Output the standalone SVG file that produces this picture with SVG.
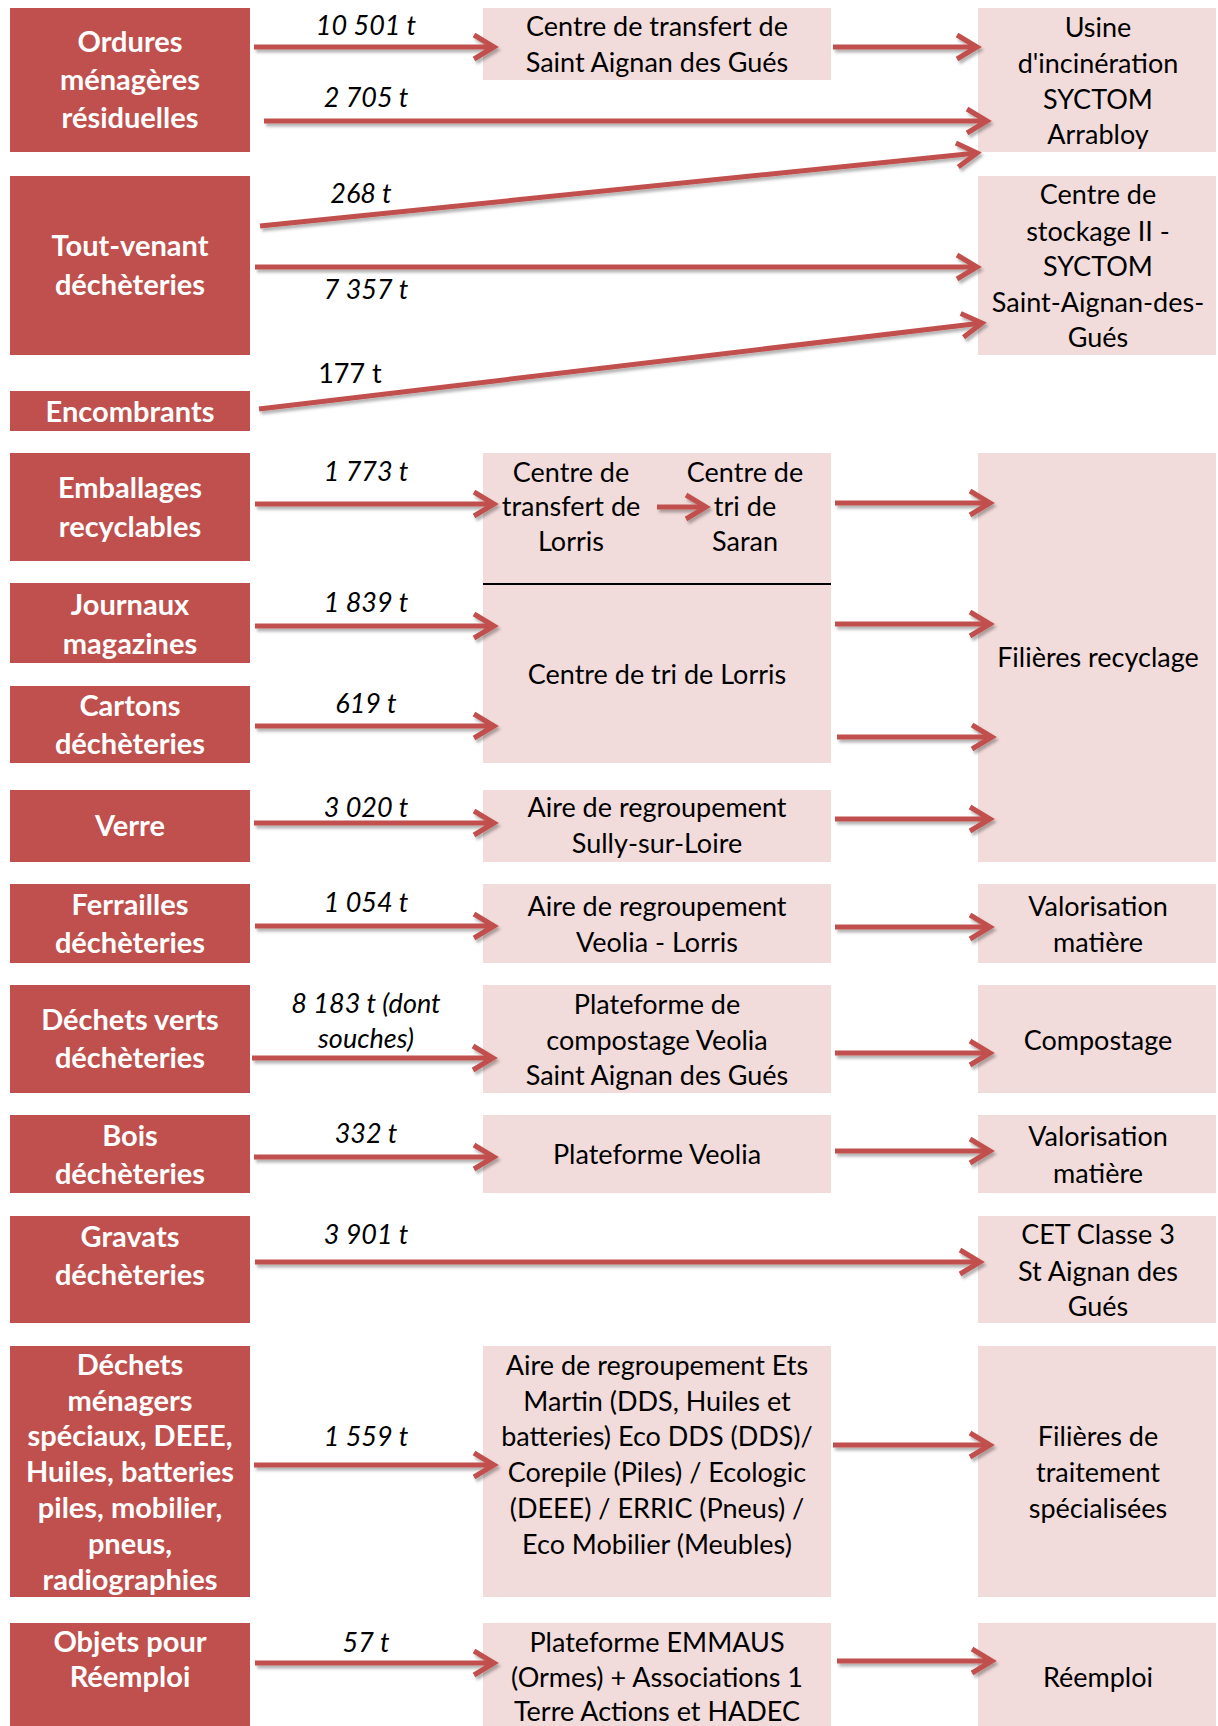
<svg xmlns="http://www.w3.org/2000/svg" width="1218" height="1726" viewBox="0 0 1218 1726">
<style>
.src{fill:#C0504D}
.box{fill:#F2DCDB}
.tb{font-family:Lato,"Open Sans",sans-serif;font-weight:bold;font-size:29px;fill:#ffffff;text-anchor:middle}
.t{font-family:Lato,"Open Sans",sans-serif;font-size:27px;fill:#000000;text-anchor:middle}
.l{font-family:Lato,"Open Sans",sans-serif;font-style:italic;font-size:27px;fill:#000000;text-anchor:middle}
.lu{font-family:Lato,"Open Sans",sans-serif;font-size:27px;fill:#000000;text-anchor:middle}
.a{stroke:#C0504D;stroke-width:5;fill:none;marker-end:url(#ah)}
</style>
<defs>
<marker id="ah" markerUnits="userSpaceOnUse" orient="auto" refX="0" refY="0" markerWidth="40" markerHeight="40" overflow="visible">
<path d="M-20,-12 L0,0 L-20,12" fill="none" stroke="#C0504D" stroke-width="5"/>
</marker>
<filter id="sh" x="-5%" y="-50%" width="110%" height="200%">
<feDropShadow dx="2" dy="3" stdDeviation="1.5" flood-color="#000000" flood-opacity="0.3"/>
</filter>
</defs>
<rect width="1218" height="1726" fill="#ffffff"/>

<g id="n-ordures"><rect class="src" x="10" y="8" width="240" height="144"/>
<text class="tb" x="130" y="52">Ordures</text><text class="tb" x="130" y="90">ménagères</text><text class="tb" x="130" y="128">résiduelles</text></g>
<g id="n-toutvenant"><rect class="src" x="10" y="176" width="240" height="179"/>
<text class="tb" x="130" y="256">Tout-venant</text><text class="tb" x="130" y="295">déchèteries</text></g>
<g id="n-encombrants"><rect class="src" x="10" y="391" width="240" height="40"/>
<text class="tb" x="130" y="422">Encombrants</text></g>
<g id="n-emballages"><rect class="src" x="10" y="453" width="240" height="108"/>
<text class="tb" x="130" y="498">Emballages</text><text class="tb" x="130" y="537">recyclables</text></g>
<g id="n-journaux"><rect class="src" x="10" y="583" width="240" height="80"/>
<text class="tb" x="130" y="615">Journaux</text><text class="tb" x="130" y="654">magazines</text></g>
<g id="n-cartons"><rect class="src" x="10" y="686" width="240" height="77"/>
<text class="tb" x="130" y="716">Cartons</text><text class="tb" x="130" y="754">déchèteries</text></g>
<g id="n-verre"><rect class="src" x="10" y="790" width="240" height="72"/>
<text class="tb" x="130" y="836">Verre</text></g>
<g id="n-ferrailles"><rect class="src" x="10" y="884" width="240" height="79"/>
<text class="tb" x="130" y="915">Ferrailles</text><text class="tb" x="130" y="953">déchèteries</text></g>
<g id="n-dechetsverts"><rect class="src" x="10" y="985" width="240" height="108"/>
<text class="tb" x="130" y="1030">Déchets verts</text><text class="tb" x="130" y="1068">déchèteries</text></g>
<g id="n-bois"><rect class="src" x="10" y="1115" width="240" height="78"/>
<text class="tb" x="130" y="1146">Bois</text><text class="tb" x="130" y="1184">déchèteries</text></g>
<g id="n-gravats"><rect class="src" x="10" y="1216" width="240" height="107"/>
<text class="tb" x="130" y="1247">Gravats</text><text class="tb" x="130" y="1285">déchèteries</text></g>
<g id="n-dms"><rect class="src" x="10" y="1346" width="240" height="251"/>
<text class="tb" x="130" y="1375">Déchets</text><text class="tb" x="130" y="1411">ménagers</text><text class="tb" x="130" y="1446">spéciaux, DEEE,</text><text class="tb" x="130" y="1482">Huiles, batteries</text><text class="tb" x="130" y="1518">piles, mobilier,</text><text class="tb" x="130" y="1554">pneus,</text><text class="tb" x="130" y="1590">radiographies</text></g>
<g id="n-objets"><rect class="src" x="10" y="1623" width="240" height="103"/>
<text class="tb" x="130" y="1652">Objets pour</text><text class="tb" x="130" y="1687">Réemploi</text></g>

<g id="m-transfert-sag"><rect class="box" x="483" y="8" width="348" height="72"/>
<text class="t" x="657" y="36">Centre de transfert de</text><text class="t" x="657" y="72">Saint Aignan des Gués</text></g>
<g id="m-lorris"><rect class="box" x="483" y="453" width="348" height="310"/>
<line x1="483" y1="584" x2="831" y2="584" stroke="#000000" stroke-width="1.8"/>
<text class="t" x="571" y="482">Centre de</text><text class="t" x="571" y="516">transfert de</text><text class="t" x="571" y="551">Lorris</text>
<text class="t" x="745" y="482">Centre de</text><text class="t" x="745" y="516">tri de</text><text class="t" x="745" y="551">Saran</text>
<text class="t" x="657" y="684">Centre de tri de Lorris</text></g>
<g id="m-sully"><rect class="box" x="483" y="790" width="348" height="72"/>
<text class="t" x="657" y="817">Aire de regroupement</text><text class="t" x="657" y="853">Sully-sur-Loire</text></g>
<g id="m-veolia-lorris"><rect class="box" x="483" y="884" width="348" height="79"/>
<text class="t" x="657" y="916">Aire de regroupement</text><text class="t" x="657" y="952">Veolia - Lorris</text></g>
<g id="m-compost"><rect class="box" x="483" y="985" width="348" height="108"/>
<text class="t" x="657" y="1014">Plateforme de</text><text class="t" x="657" y="1050">compostage Veolia</text><text class="t" x="657" y="1085">Saint Aignan des Gués</text></g>
<g id="m-veolia"><rect class="box" x="483" y="1115" width="348" height="78"/>
<text class="t" x="657" y="1164">Plateforme Veolia</text></g>
<g id="m-martin"><rect class="box" x="483" y="1346" width="348" height="251"/>
<text class="t" x="657" y="1375">Aire de regroupement Ets</text><text class="t" x="657" y="1411">Martin (DDS, Huiles et</text><text class="t" x="657" y="1446">batteries) Eco DDS (DDS)/</text><text class="t" x="657" y="1482">Corepile (Piles) / Ecologic</text><text class="t" x="657" y="1518">(DEEE) / ERRIC (Pneus) /</text><text class="t" x="657" y="1554">Eco Mobilier (Meubles)</text></g>
<g id="m-emmaus"><rect class="box" x="483" y="1623" width="348" height="103"/>
<text class="t" x="657" y="1652">Plateforme EMMAUS</text><text class="t" x="657" y="1687">(Ormes) + Associations 1</text><text class="t" x="657" y="1721">Terre Actions et HADEC</text></g>

<g id="r-usine"><rect class="box" x="978" y="8" width="238" height="144"/>
<text class="t" x="1098" y="37">Usine</text><text class="t" x="1098" y="73">d'incinération</text><text class="t" x="1098" y="109">SYCTOM</text><text class="t" x="1098" y="144">Arrabloy</text></g>
<g id="r-stockage"><rect class="box" x="978" y="176" width="238" height="179"/>
<text class="t" x="1098" y="204">Centre de</text><text class="t" x="1098" y="241">stockage II -</text><text class="t" x="1098" y="276">SYCTOM</text><text class="t" x="1098" y="312">Saint-Aignan-des-</text><text class="t" x="1098" y="347">Gués</text></g>
<g id="r-recyclage"><rect class="box" x="978" y="453" width="238" height="409"/>
<text class="t" x="1098" y="667">Filières recyclage</text></g>
<g id="r-valo1"><rect class="box" x="978" y="884" width="238" height="79"/>
<text class="t" x="1098" y="916">Valorisation</text><text class="t" x="1098" y="952">matière</text></g>
<g id="r-compostage"><rect class="box" x="978" y="985" width="238" height="108"/>
<text class="t" x="1098" y="1050">Compostage</text></g>
<g id="r-valo2"><rect class="box" x="978" y="1115" width="238" height="78"/>
<text class="t" x="1098" y="1146">Valorisation</text><text class="t" x="1098" y="1183">matière</text></g>
<g id="r-cet"><rect class="box" x="978" y="1216" width="238" height="107"/>
<text class="t" x="1098" y="1244">CET Classe 3</text><text class="t" x="1098" y="1281">St Aignan des</text><text class="t" x="1098" y="1316">Gués</text></g>
<g id="r-speciales"><rect class="box" x="978" y="1346" width="238" height="251"/>
<text class="t" x="1098" y="1446">Filières de</text><text class="t" x="1098" y="1482">traitement</text><text class="t" x="1098" y="1518">spécialisées</text></g>
<g id="r-reemploi"><rect class="box" x="978" y="1623" width="238" height="103"/>
<text class="t" x="1098" y="1687">Réemploi</text></g>

<g id="connectors" filter="url(#sh)">
<line class="a" x1="254" y1="47" x2="494" y2="47"/>
<line class="a" x1="833" y1="47" x2="977" y2="47"/>
<line class="a" x1="264" y1="121" x2="987" y2="121"/>
<line class="a" x1="260" y1="226" x2="977" y2="153"/>
<line class="a" x1="255" y1="267" x2="977" y2="267"/>
<line class="a" x1="259" y1="409" x2="982" y2="323"/>
<line class="a" x1="255" y1="504" x2="494" y2="504"/>
<line class="a" x1="657" y1="507" x2="706" y2="507"/>
<line class="a" x1="835" y1="503" x2="990" y2="503"/>
<line class="a" x1="255" y1="626" x2="494" y2="626"/>
<line class="a" x1="255" y1="726" x2="494" y2="726"/>
<line class="a" x1="835" y1="624" x2="990" y2="624"/>
<line class="a" x1="837" y1="737" x2="992" y2="737"/>
<line class="a" x1="254" y1="823" x2="494" y2="823"/>
<line class="a" x1="835" y1="819" x2="990" y2="819"/>
<line class="a" x1="255" y1="926" x2="494" y2="926"/>
<line class="a" x1="835" y1="927" x2="990" y2="927"/>
<line class="a" x1="252" y1="1058" x2="493" y2="1058"/>
<line class="a" x1="835" y1="1053" x2="990" y2="1053"/>
<line class="a" x1="254" y1="1157" x2="494" y2="1157"/>
<line class="a" x1="835" y1="1151" x2="990" y2="1151"/>
<line class="a" x1="255" y1="1262" x2="980" y2="1262"/>
<line class="a" x1="254" y1="1465" x2="494" y2="1465"/>
<line class="a" x1="833" y1="1445" x2="990" y2="1445"/>
<line class="a" x1="255" y1="1663" x2="494" y2="1663"/>
<line class="a" x1="837" y1="1661" x2="992" y2="1661"/>
</g>

<g id="labels">
<text class="l" x="366" y="35">10 501 t</text>
<text class="l" x="366" y="107">2 705 t</text>
<text class="l" x="361" y="203">268 t</text>
<text class="l" x="366" y="299">7 357 t</text>
<text class="lu" x="350" y="383">177 t</text>
<text class="l" x="366" y="481">1 773 t</text>
<text class="l" x="366" y="612">1 839 t</text>
<text class="l" x="366" y="713">619 t</text>
<text class="l" x="366" y="817">3 020 t</text>
<text class="l" x="366" y="912">1 054 t</text>
<text class="l" x="366" y="1013">8 183 t (dont</text>
<text class="l" x="366" y="1048">souches)</text>
<text class="l" x="366" y="1143">332 t</text>
<text class="l" x="366" y="1244">3 901 t</text>
<text class="l" x="366" y="1446">1 559 t</text>
<text class="l" x="366" y="1652">57 t</text>
</g>
</svg>
